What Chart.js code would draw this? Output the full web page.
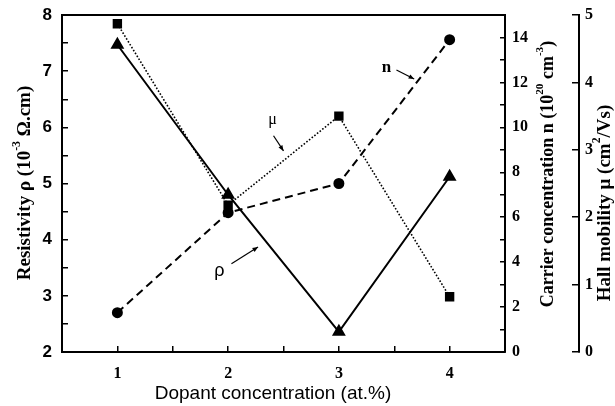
<!DOCTYPE html>
<html>
<head>
<meta charset="utf-8">
<script src="https://cdn.jsdelivr.net/npm/chart.js@4.4.0/dist/chart.umd.min.js"></script>
<style>
  html, body { margin: 0; padding: 0; background: #fff; }
</style>
</head>
<body>
<canvas id="chart" width="615" height="406"></canvas>
<script>
// Data
const dopant = [1, 2, 3, 4];               // at.%
const resistivity = [7.47, 4.80, 2.36, 5.12]; // 10^-3 ohm.cm
const carrierConc = [1.75, 6.2, 7.5, 13.9];   // 10^20 cm^-3
const hallMobility = [4.87, 2.18, 3.50, 0.82]; // cm^2/Vs

const xTickLabels = ['1', '2', '3', '4'];
const rhoTickLabels = ['2', '3', '4', '5', '6', '7', '8'];
const nTickLabels = ['0', '2', '4', '6', '8', '10', '12', '14'];
const muTickLabels = ['0', '1', '2', '3', '4', '5'];

// curve labels with arrows, in (dopant, resistivity) units
const notes = [
  { text: 'μ', font: '16px "Liberation Serif"', at: [2.40, 6.13], from: [2.41, 5.85], to: [2.50, 5.58] },
  { text: 'n', font: 'bold 17px "Liberation Serif"', at: [3.43, 7.07], from: [3.52, 7.02], to: [3.68, 6.86] },
  { text: 'ρ', font: '18px "Liberation Sans"', at: [1.92, 3.44], from: [2.03, 3.57], to: [2.27, 3.87] }
];

const serifBold = { family: 'Liberation Serif', size: 16, weight: 'bold' };

function labelFrom(list) {
  return (v) => list.includes(String(v)) ? String(v) : '';
}

// fixed axis sizes, no extra padding for overflowing labels
function fixSize(w, h) {
  return (s) => {
    if (w) s.width = w;
    if (h) s.height = h;
    s.paddingTop = 0;
    s.paddingBottom = 0;
    s.paddingLeft = 0;
    s.paddingRight = 0;
  };
}

// draws text with superscript parts, centred at (x, y), optionally rotated
function drawRich(ctx, parts, x, y, size, family, weight, rot) {
  ctx.save();
  ctx.translate(x, y);
  if (rot) ctx.rotate(rot);
  ctx.fillStyle = '#000';
  ctx.textBaseline = 'middle';
  ctx.textAlign = 'left';
  let total = 0;
  parts.forEach(p => {
    ctx.font = weight + ' ' + (p.sup ? size * 0.62 : size) + 'px "' + family + '"';
    p.w = ctx.measureText(p.t).width;
    total += p.w;
  });
  let cx = -total / 2;
  parts.forEach(p => {
    ctx.font = weight + ' ' + (p.sup ? size * 0.62 : size) + 'px "' + family + '"';
    ctx.fillText(p.t, cx, p.sup ? -size * 0.42 : 0);
    cx += p.w;
  });
  ctx.restore();
}

const decorations = {
  id: 'decorations',
  afterDraw(chart) {
    const ctx = chart.ctx;
    const a = chart.chartArea;
    const xs = chart.scales.x;
    const ys = chart.scales.yRho;

    // top frame line
    ctx.save();
    ctx.strokeStyle = '#000';
    ctx.lineWidth = 2;
    ctx.beginPath();
    ctx.moveTo(a.left - 1, a.top);
    ctx.lineTo(a.right + 1, a.top);
    ctx.stroke();
    ctx.restore();

    // axis titles
    drawRich(ctx, [{ t: 'Resistivity ρ (10' }, { t: '-3', sup: true }, { t: ' Ω.cm)' }],
      25, 183, 19, 'Liberation Serif', 'bold', -Math.PI / 2);
    drawRich(ctx, [{ t: 'Dopant concentration (at.%)' }],
      273, 394, 19, 'Liberation Sans', 'normal', 0);
    drawRich(ctx, [{ t: 'Carrier concentration n (10' }, { t: '20', sup: true }, { t: ' cm' }, { t: '-3', sup: true }, { t: ')' }],
      548, 174, 18, 'Liberation Serif', 'bold', -Math.PI / 2);
    drawRich(ctx, [{ t: 'Hall mobility μ (cm' }, { t: '2', sup: true }, { t: '/Vs)' }],
      605, 203, 19, 'Liberation Serif', 'bold', -Math.PI / 2);

    // curve labels
    notes.forEach(n => {
      const lx = xs.getPixelForValue(n.at[0]);
      const ly = ys.getPixelForValue(n.at[1]);
      const x1 = xs.getPixelForValue(n.from[0]);
      const y1 = ys.getPixelForValue(n.from[1]);
      const x2 = xs.getPixelForValue(n.to[0]);
      const y2 = ys.getPixelForValue(n.to[1]);
      ctx.save();
      ctx.fillStyle = '#000';
      ctx.strokeStyle = '#000';
      ctx.font = n.font;
      ctx.textAlign = 'center';
      ctx.textBaseline = 'middle';
      ctx.fillText(n.text, lx, ly);
      ctx.lineWidth = 1.2;
      ctx.beginPath();
      ctx.moveTo(x1, y1);
      ctx.lineTo(x2, y2);
      ctx.stroke();
      const ang = Math.atan2(y2 - y1, x2 - x1);
      ctx.beginPath();
      ctx.moveTo(x2, y2);
      ctx.lineTo(x2 - 6 * Math.cos(ang - 0.4), y2 - 6 * Math.sin(ang - 0.4));
      ctx.lineTo(x2 - 6 * Math.cos(ang + 0.4), y2 - 6 * Math.sin(ang + 0.4));
      ctx.closePath();
      ctx.fill();
      ctx.restore();
    });
  }
};

const ctx = document.getElementById('chart').getContext('2d');
new Chart(ctx, {
  type: 'line',
  data: {
    datasets: [
      {
        label: 'rho',
        data: dopant.map((d, i) => ({ x: d, y: resistivity[i] })),
        yAxisID: 'yRho',
        borderColor: '#000',
        backgroundColor: '#000',
        borderWidth: 2,
        pointStyle: 'triangle',
        pointRadius: 6,
        tension: 0
      },
      {
        label: 'mu',
        data: dopant.map((d, i) => ({ x: d, y: hallMobility[i] })),
        yAxisID: 'yMu',
        borderColor: '#000',
        backgroundColor: '#000',
        borderWidth: 1.6,
        borderDash: [1.6, 1.8],
        pointStyle: 'rect',
        pointRadius: 5.5,
        tension: 0
      },
      {
        label: 'n',
        data: dopant.map((d, i) => ({ x: d, y: carrierConc[i] })),
        yAxisID: 'yN',
        borderColor: '#000',
        backgroundColor: '#000',
        borderWidth: 2,
        borderDash: [8, 5],
        pointStyle: 'circle',
        pointRadius: 4.5,
        tension: 0
      }
    ]
  },
  options: {
    responsive: false,
    animation: false,
    layout: { padding: { top: 15, left: 0, right: 0, bottom: 0 } },
    plugins: { legend: { display: false }, tooltip: { enabled: false } },
    scales: {
      x: {
        type: 'linear',
        position: 'bottom',
        min: 0.5,
        max: 4.5,
        afterFit: fixSize(0, 54),
        afterBuildTicks: (s) => { s.ticks = [1, 1.5, 2, 2.5, 3, 3.5, 4].map(v => ({ value: v })); },
        border: { color: '#000', width: 2 },
        grid: { drawOnChartArea: false, color: '#000', lineWidth: 1.5, tickLength: -6 },
        ticks: { autoSkip: false, maxRotation: 0, padding: 18, color: '#000', font: serifBold, callback: labelFrom(xTickLabels) }
      },
      yRho: {
        type: 'linear',
        position: 'left',
        min: 2,
        max: 8,
        afterFit: fixSize(62, 0),
        border: { color: '#000', width: 2 },
        grid: { drawOnChartArea: false, color: '#000', lineWidth: 1.5, tickLength: -6 },
        ticks: { stepSize: 0.5, autoSkip: false, padding: 16, color: '#000',
          font: { family: 'Liberation Sans', size: 17, weight: 'bold' }, callback: labelFrom(rhoTickLabels) }
      },
      yN: {
        type: 'linear',
        position: 'right',
        weight: 0,
        min: 0,
        max: 15,
        afterFit: fixSize(74, 0),
        border: { color: '#000', width: 2 },
        grid: { drawOnChartArea: false, color: '#000', lineWidth: 1.5, tickLength: -5 },
        ticks: { stepSize: 1, autoSkip: false, padding: 12, color: '#000', font: serifBold, callback: labelFrom(nTickLabels) }
      },
      yMu: {
        type: 'linear',
        position: 'right',
        weight: 1,
        min: 0,
        max: 5,
        afterFit: fixSize(36, 0),
        border: { color: '#000', width: 2 },
        grid: { drawOnChartArea: false, color: '#000', lineWidth: 1.5, tickLength: -7 },
        ticks: { stepSize: 1, autoSkip: false, padding: 13, color: '#000', font: serifBold, callback: labelFrom(muTickLabels) }
      }
    }
  },
  plugins: [decorations]
});
</script>
</body>
</html>
